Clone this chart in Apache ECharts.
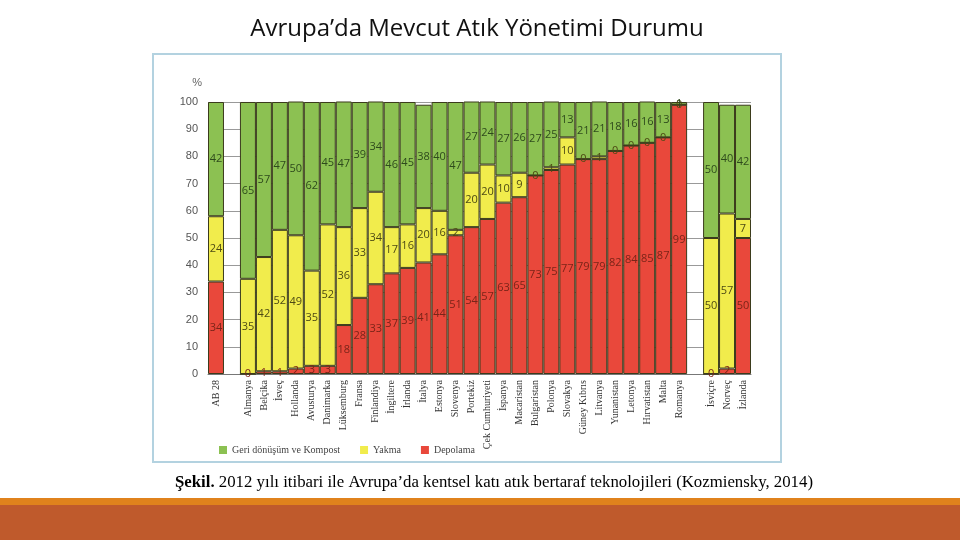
<!DOCTYPE html>
<html>
<head>
<meta charset="utf-8">
<script src="https://cdn.jsdelivr.net/npm/echarts@6/dist/echarts.min.js"></script>
<style>
  html, body { margin: 0; padding: 0; background: #fff; }
  #chart { width: 960px; height: 540px; }
</style>
</head>
<body>
<div id="chart"></div>
<script>
// ülkeler (boş olanlar gruplar arası boşluk)
const categories = ['AB 28', '', 'Almanya', 'Belçika', 'İsveç', 'Hollanda', 'Avusturya', 'Danimarka',
  'Lüksemburg', 'Fransa', 'Finlandiya', 'İngiltere', 'İrlanda', 'İtalya', 'Estonya', 'Slovenya',
  'Portekiz', 'Çek Cumhuriyeti', 'İspanya', 'Macaristan', 'Bulgaristan', 'Polonya', 'Slovakya',
  'Güney Kıbrıs', 'Litvanya', 'Yunanistan', 'Letonya', 'Hırvatistan', 'Malta', 'Romanya', ' ',
  'İsviçre', 'Norveç', 'İzlanda'];

const geriDonusum = [42, '-', 65, 57, 47, 50, 62, 45, 47, 39, 34, 46, 45, 38, 40, 47,
  27, 24, 27, 26, 27, 25, 13, 21, 21, 18, 16, 16, 13, 1, '-', 50, 40, 42];
const yakma = [24, '-', 35, 42, 52, 49, 35, 52, 36, 33, 34, 17, 16, 20, 16, 2,
  20, 20, 10, 9, 0, 1, 10, 0, 1, 0, 0, 0, 0, 0, '-', 50, 57, 7];
const depolama = [34, '-', 0, 1, 1, 2, 3, 3, 18, 28, 33, 37, 39, 41, 44, 51,
  54, 57, 63, 65, 73, 75, 77, 79, 79, 82, 84, 85, 87, 99, '-', 0, 2, 50];

const yTicks = [0, 10, 20, 30, 40, 50, 60, 70, 80, 90, 100];

const chart = echarts.init(document.getElementById('chart'));

function seri(name, data, color, textColor) {
  return {
    name: name,
    type: 'bar',
    stack: 'toplam',
    data: data,
    barWidth: '100%',
    itemStyle: { color: color, borderColor: '#3b3b1c', borderWidth: 1 },
    label: {
      show: true,
      position: 'inside',
      color: textColor,
      fontSize: 11,
      fontFamily: 'Open Sans'
    }
  };
}

chart.setOption({
  animation: false,
  title: {
    text: 'Avrupa’da Mevcut Atık Yönetimi Durumu',
    left: 472,
    top: 12,
    textAlign: 'center',
    textStyle: { fontSize: 24, fontWeight: 'normal', color: '#111', fontFamily: 'Open Sans' }
  },
  legend: {
    data: ['Geri dönüşüm ve Kompost', 'Yakma', 'Depolama'],
    left: 214,
    top: 440,
    itemWidth: 8,
    itemHeight: 8,
    itemGap: 20,
    icon: 'rect',
    itemStyle: { borderWidth: 0 },
    textStyle: { fontSize: 10, color: '#444', fontFamily: 'Liberation Serif' }
  },
  grid: { left: 208, right: 209, top: 102, bottom: 166 },
  xAxis: {
    type: 'category',
    data: categories,
    axisLine: { lineStyle: { color: '#777' } },
    axisTick: { show: false },
    axisLabel: {
      rotate: 90,
      interval: 0,
      fontSize: 10,
      margin: 6,
      color: '#333',
      fontFamily: 'Liberation Serif'
    }
  },
  yAxis: {
    type: 'value',
    min: 0,
    max: 100,
    interval: 10,
    name: '%',
    nameLocation: 'end',
    nameGap: 14,
    nameTextStyle: { color: '#666', fontSize: 11, align: 'right', padding: [0, 6, 0, 0] },
    axisLine: { show: false },
    axisTick: { show: false },
    axisLabel: {
      color: '#555',
      fontSize: 11,
      margin: 10,
      customValues: yTicks
    },
    splitLine: { lineStyle: { color: '#999', width: 1 } }
  },
  series: [
    seri('Depolama', depolama, '#e9483b', '#7a2418'),
    seri('Yakma', yakma, '#f1ec4c', '#4d4a14'),
    seri('Geri dönüşüm ve Kompost', geriDonusum, '#8cc152', '#2e4a1c')
  ],
  graphic: [
    {
      type: 'rect',
      shape: { x: 153, y: 54, width: 628, height: 408 },
      style: { fill: 'none', stroke: '#b3d2e0', lineWidth: 2 },
      z: -1
    },
    {
      type: 'text',
      left: 175,
      top: 474,
      style: {
        rich: {
          b: { fontWeight: 'bold', fontSize: 16.8, fontFamily: 'Liberation Serif', fill: '#000' },
          n: { fontSize: 16.8, fontFamily: 'Liberation Serif', fill: '#000' }
        },
        text: '{b|Şekil.}{n| 2012 yılı itibari ile Avrupa’da kentsel katı atık bertaraf teknolojileri (Kozmiensky, 2014)}'
      }
    },
    {
      type: 'rect',
      shape: { x: 0, y: 498, width: 960, height: 7 },
      style: { fill: '#e0821c' }
    },
    {
      type: 'rect',
      shape: { x: 0, y: 505, width: 960, height: 35 },
      style: { fill: '#bf5a2c' }
    }
  ]
});
</script>
</body>
</html>
